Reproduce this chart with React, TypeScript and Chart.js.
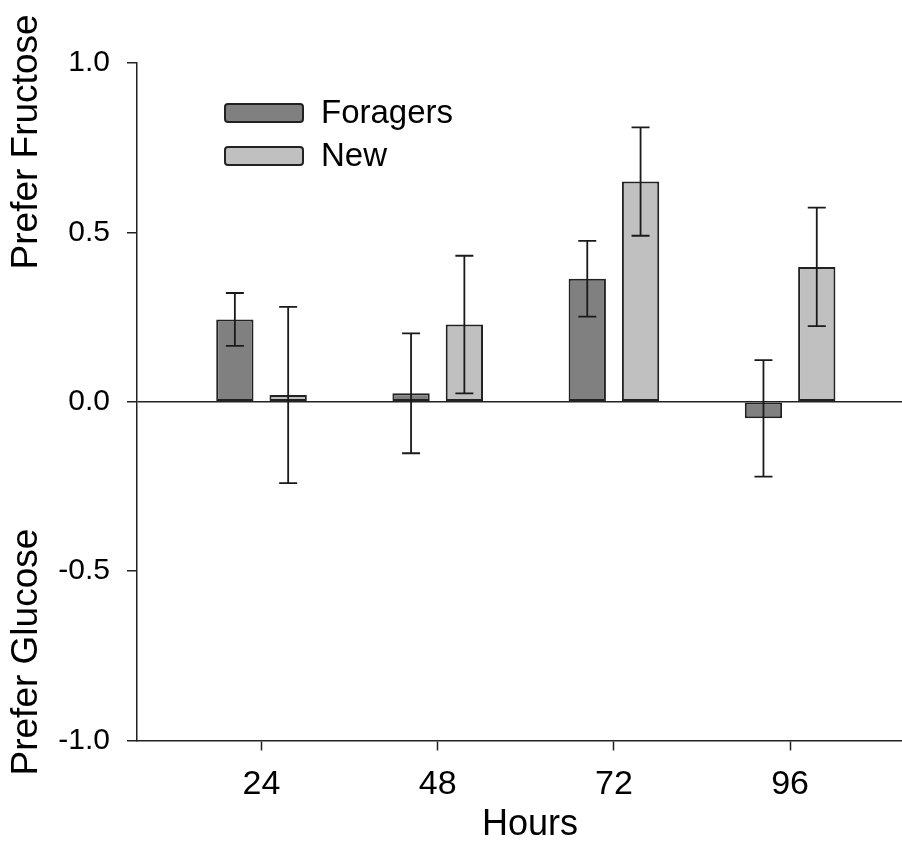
import React, { useEffect, useRef } from "react";
import { Chart, registerables } from "chart.js";

Chart.register(...registerables);

const hours = [24, 48, 72, 96];
const foragerMeans = [0.243, 0.025, 0.363, -0.049];
const foragerErrors = [0.078, 0.177, 0.112, 0.172];
const newMeans = [0.02, 0.228, 0.65, 0.398];
const newErrors = [0.26, 0.203, 0.16, 0.175];
const seriesLabels = ["Foragers", "New"];
const yTicks = [-1, -0.5, 0, 0.5, 1];

const FONT = '"Liberation Sans", Arial, sans-serif';
const LINE = "#222222";

const errorBarPlugin = {
  id: "errorBars",
  afterDatasetsDraw(chart: any) {
    const ctx = chart.ctx;
    const y = chart.scales.y;
    chart.data.datasets.forEach((ds: any, di: number) => {
      const meta = chart.getDatasetMeta(di);
      meta.data.forEach((bar: any, i: number) => {
        const v = ds.data[i].y;
        const e = ds.errors[i];
        const top = y.getPixelForValue(v + e);
        const bot = y.getPixelForValue(v - e);
        const x = bar.x;
        ctx.save();
        ctx.strokeStyle = "#1a1a1a";
        ctx.lineWidth = 1.8;
        ctx.beginPath();
        ctx.moveTo(x, top);
        ctx.lineTo(x, bot);
        ctx.moveTo(x - 9, top);
        ctx.lineTo(x + 9, top);
        ctx.moveTo(x - 9, bot);
        ctx.lineTo(x + 9, bot);
        ctx.stroke();
        ctx.restore();
      });
    });
  },
};

const legendPlugin = {
  id: "customLegend",
  afterDraw(chart: any) {
    const ctx = chart.ctx;
    chart.data.datasets.forEach((ds: any, i: number) => {
      const top = 104 + i * 43;
      ctx.save();
      ctx.fillStyle = ds.backgroundColor;
      ctx.strokeStyle = LINE;
      ctx.lineWidth = 2;
      ctx.beginPath();
      ctx.roundRect(225, top, 78, 18, 3);
      ctx.fill();
      ctx.stroke();
      ctx.fillStyle = "#000";
      ctx.font = `33px ${FONT}`;
      ctx.textBaseline = "middle";
      ctx.textAlign = "left";
      ctx.fillText(ds.label, 321, top + 10);
      ctx.restore();
    });
  },
};

const yLabelPlugin = {
  id: "yLabels",
  afterDraw(chart: any) {
    const ctx = chart.ctx;
    const y = chart.scales.y;
    const items = [
      { text: "Prefer Fructose", v: 0.767 },
      { text: "Prefer Glucose", v: -0.739 },
    ];
    items.forEach((it) => {
      ctx.save();
      ctx.translate(27, y.getPixelForValue(it.v));
      ctx.rotate(-Math.PI / 2);
      ctx.fillStyle = "#000";
      ctx.font = `37px ${FONT}`;
      ctx.textAlign = "center";
      ctx.textBaseline = "middle";
      ctx.fillText(it.text, 0, 0);
      ctx.restore();
    });
  },
};

export default function App() {
  const ref = useRef<HTMLCanvasElement | null>(null);

  useEffect(() => {
    if (!ref.current) return;
    const chart = new Chart(ref.current, {
      type: "bar",
      data: {
        datasets: [
          {
            label: seriesLabels[0],
            data: hours.map((h, i) => ({ x: h, y: foragerMeans[i] })),
            errors: foragerErrors,
            backgroundColor: "#808080",
            borderColor: LINE,
            borderWidth: 2,
            borderSkipped: false,
          } as any,
          {
            label: seriesLabels[1],
            data: hours.map((h, i) => ({ x: h, y: newMeans[i] })),
            errors: newErrors,
            backgroundColor: "#c0c0c0",
            borderColor: LINE,
            borderWidth: 2,
            borderSkipped: false,
          } as any,
        ],
      },
      options: {
        responsive: false,
        animation: false,
        devicePixelRatio: 1,
        categoryPercentage: 0.605,
        barPercentage: 0.7,
        layout: { padding: { top: 63, left: 0, right: 0, bottom: 0 } },
        plugins: {
          legend: { display: false },
          tooltip: { enabled: false },
        },
        scales: {
          x: {
            type: "linear",
            min: 7.04,
            max: 114.1,
            offset: false,
            afterBuildTicks: (axis: any) => {
              axis.ticks = hours.map((v) => ({ value: v }));
            },
            afterFit: (scale: any) => {
              scale.height = 102.5;
            },
            grid: {
              offset: false,
              drawOnChartArea: false,
              drawTicks: true,
              tickLength: 10,
              tickColor: LINE,
              tickWidth: 1.5,
            },
            border: { display: true, color: LINE, width: 1.5 },
            ticks: {
              padding: 14,
              color: "#000",
              font: { family: FONT, size: 34 },
              callback: (v: any) => String(v),
            },
            title: {
              display: true,
              text: "Hours",
              color: "#000",
              font: { family: FONT, size: 36 },
              padding: { top: 0, bottom: -4 },
            },
          },
          y: {
            type: "linear",
            min: -1,
            max: 1,
            afterBuildTicks: (axis: any) => {
              axis.ticks = yTicks.map((v) => ({ value: v }));
            },
            afterFit: (scale: any) => {
              scale.width = 137;
            },
            grid: {
              drawOnChartArea: true,
              drawTicks: true,
              tickLength: 10,
              tickColor: LINE,
              tickWidth: 1.5,
              lineWidth: 1.5,
              color: (ctx: any) =>
                ctx.tick && ctx.tick.value === 0 ? LINE : "rgba(0,0,0,0)",
            },
            border: { display: true, color: LINE, width: 1.5 },
            ticks: {
              padding: 17,
              color: "#000",
              font: { family: FONT, size: 30 },
              callback: (v: any) => Number(v).toFixed(1),
            },
          },
        },
      },
      plugins: [errorBarPlugin, legendPlugin, yLabelPlugin],
    } as any);
    return () => chart.destroy();
  }, []);

  return (
    <div
      style={{
        position: "fixed",
        left: 0,
        top: 0,
        width: "902px",
        height: "843px",
        overflow: "hidden",
        background: "#fff",
      }}
    >
      <canvas
        ref={ref}
        width={923}
        height={843}
        style={{ display: "block", width: "923px", height: "843px" }}
      />
    </div>
  );
}
